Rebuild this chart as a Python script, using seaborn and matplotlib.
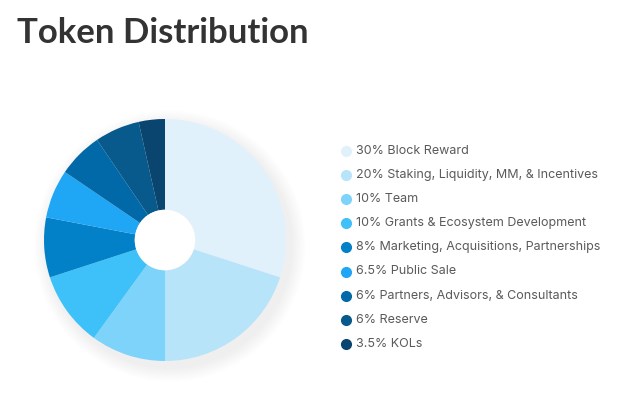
import matplotlib
matplotlib.use("Agg")
import matplotlib.pyplot as plt
import seaborn as sns
from matplotlib.patches import Circle
from matplotlib.lines import Line2D

labels = ["Block Reward", "Staking, Liquidity, MM, & Incentives", "Team",
          "Grants & Ecosystem Development", "Marketing, Acquisitions, Partnerships",
          "Public Sale", "Partners, Advisors, & Consultants", "Reserve", "KOLs"]
values = [30, 20, 10, 10, 8, 6.5, 6, 6, 3.5]
value_text = ["30%", "20%", "10%", "10%", "8%", "6.5%", "6%", "6%", "3.5%"]
colors = ["#E1F1FC", "#B8E4FA", "#7ED3FB", "#3EC1F8", "#0381C8",
          "#1FA6F4", "#0269A9", "#075A8B", "#0A4570"]

sns.set_theme(style="white")
plt.rcParams['font.family'] = ['Lato', 'DejaVu Sans']

W, H = 635, 394
fig = plt.figure(figsize=(W / 100, H / 100), dpi=100)
fig.patch.set_facecolor("white")

cx, cy, r = 165, 240, 121
ax = fig.add_axes([(cx - r) / W, (H - cy - r) / H, 2 * r / W, 2 * r / H])
ax.axis("off")

# soft shadow
for i in range(8):
    ax.add_patch(Circle((0.04, -0.05), 1.0 + 0.015 * (i + 1), color="#000000",
                        alpha=0.008, lw=0, zorder=0, clip_on=False))

ax.pie(values, colors=colors, startangle=90, counterclock=False, radius=1.0,
       wedgeprops=dict(width=0.75, edgecolor="none", linewidth=0))
ax.add_patch(Circle((0, 0), 0.25, color="white", lw=0, zorder=5))
ax.set_xlim(-1, 1)
ax.set_ylim(-1, 1)
ax.set_aspect("equal")
ax.set_position([(cx - r) / W, (H - cy - r) / H, 2 * r / W, 2 * r / H])

fig.text(17 / W, 1 - 33 / H, "Token Distribution", fontsize=25, fontweight="bold",
         color="#333333", va="center", ha="left", family=["Lato", "DejaVu Sans"])

y0, dy = 151, 24.1
for i, (lab, vt, c) in enumerate(zip(labels, value_text, colors)):
    y = 1 - (y0 + i * dy) / H
    fig.add_artist(Line2D([346 / W], [y], marker="o", markersize=7, color=c,
                          linestyle="none", transform=fig.transFigure))
    fig.text(356 / W, y, f"{vt} {lab}", fontsize=9.0, color="#5a5a5a",
             va="center", ha="left", family=["Inter", "DejaVu Sans"])

fig.savefig("out.png", dpi=100)
